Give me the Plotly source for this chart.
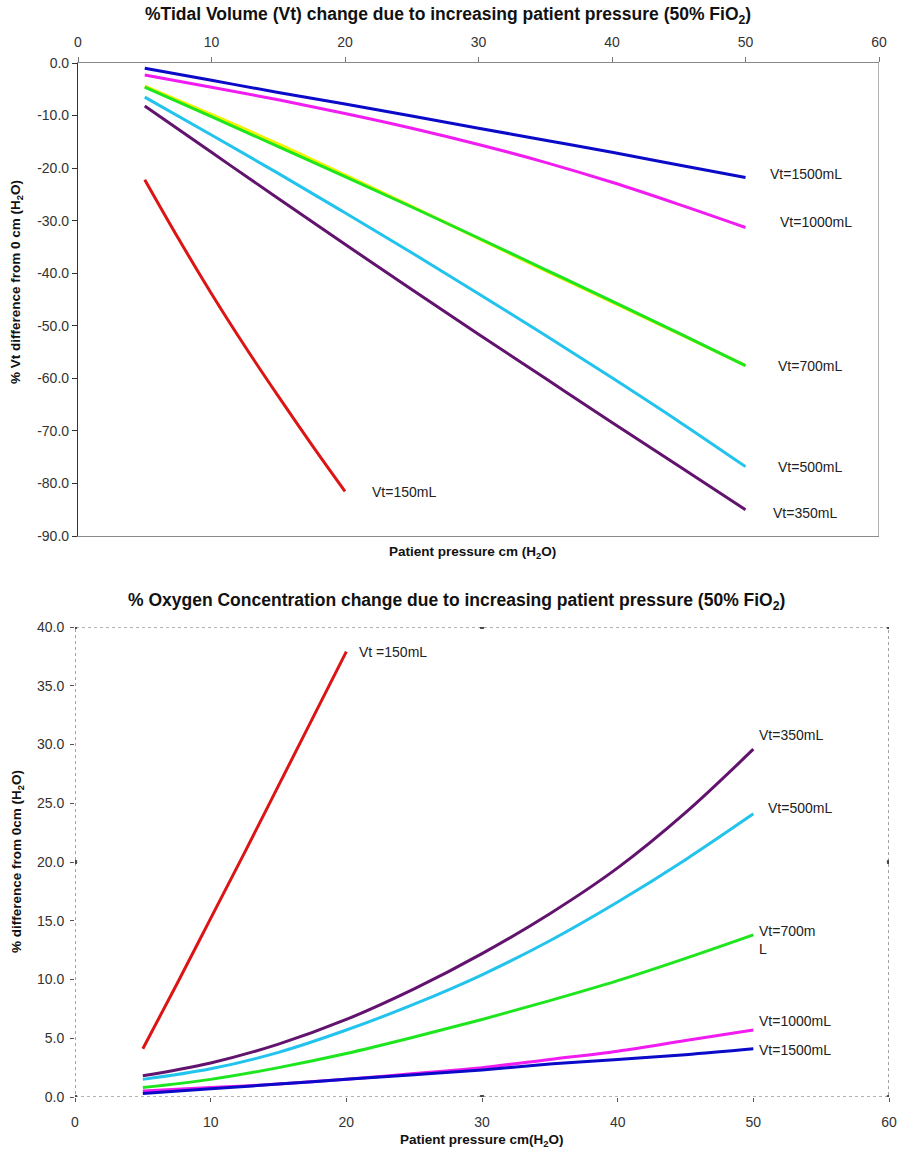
import plotly.graph_objects as go

# the page's default body margin is removed by a post script, so figure px == page px
OFF = 0
W, H = 899 - OFF, 1152 - OFF

# ---------------- data ----------------
pressure = [5, 10, 15, 20, 25, 30, 35, 40, 45, 50]
pressure_150 = [5, 7.5, 10, 12.5, 15, 17.5, 20]

# Top chart: % Vt difference
vt_1500 = [-1.0, -3.3, -5.6, -7.8, -10.1, -12.4, -14.7, -17.0, -19.4, -21.8]
vt_1000 = [-2.3, -4.6, -7.0, -9.6, -12.4, -15.5, -18.9, -22.7, -26.9, -31.3]
vt_700 = [-4.6, -10.2, -15.9, -21.6, -27.4, -33.3, -39.3, -45.3, -51.4, -57.6]
vt_700b = [-4.4, -9.8, -15.4, -21.3, -27.3, -33.4, -39.5, -45.5, -51.5, -57.6]
vt_500 = [-6.5, -13.7, -21.0, -28.5, -36.1, -43.9, -51.8, -59.9, -68.2, -76.8]
vt_350 = [-8.2, -17.0, -25.8, -34.5, -43.1, -51.6, -60.0, -68.4, -76.7, -85.0]
vt_150 = [-22.2, -33.3, -43.9, -53.9, -63.4, -72.6, -81.5]

# Bottom chart: % O2 difference
o2_1500 = [0.3, 0.7, 1.1, 1.5, 1.9, 2.3, 2.8, 3.2, 3.6, 4.1]
o2_1000 = [0.5, 0.8, 1.1, 1.5, 2.0, 2.5, 3.2, 3.9, 4.8, 5.7]
o2_700 = [0.8, 1.5, 2.5, 3.7, 5.1, 6.6, 8.2, 9.9, 11.8, 13.8]
o2_500 = [1.5, 2.4, 3.8, 5.7, 7.9, 10.4, 13.3, 16.6, 20.2, 24.1]
o2_350 = [1.8, 2.9, 4.5, 6.6, 9.2, 12.2, 15.6, 19.5, 24.2, 29.6]
o2_150 = [4.1, 9.6, 15.2, 20.8, 26.5, 32.2, 37.9]

x_ticks = [0, 10, 20, 30, 40, 50, 60]
top_y_ticks = [0, -10, -20, -30, -40, -50, -60, -70, -80, -90]
top_y_text = ["0.0", "-10.0", "-20.0", "-30.0", "-40.0", "-50.0", "-60.0", "-70.0", "-80.0", "-90.0"]
bot_y_ticks = [0, 5, 10, 15, 20, 25, 30, 35, 40]
bot_y_text = ["0.0", "5.0", "10.0", "15.0", "20.0", "25.0", "30.0", "35.0", "40.0"]

C_BLUE = "#0a0ac8"
C_MAG = "#f01cf0"
C_GREEN = "#1ee61e"
C_YEL = "#f2f200"
C_CYAN = "#22c3ec"
C_PURP = "#62136e"
C_RED = "#dc1414"

FONT = "Liberation Sans, Arial, sans-serif"

fig = go.Figure()

def line(x, y, color, xa, ya, width=3):
    fig.add_trace(go.Scatter(x=x, y=y, mode="lines",
                             line=dict(color=color, width=width, shape="spline", smoothing=1.0),
                             xaxis=xa, yaxis=ya, showlegend=False, hoverinfo="skip"))

# top chart
line(pressure, vt_700b, C_YEL, "x", "y")
line(pressure, vt_1500, C_BLUE, "x", "y")
line(pressure, vt_1000, C_MAG, "x", "y")
line(pressure, vt_700, C_GREEN, "x", "y")
line(pressure, vt_500, C_CYAN, "x", "y")
line(pressure, vt_350, C_PURP, "x", "y")
line(pressure_150, vt_150, C_RED, "x", "y")

# bottom chart
line(pressure_150, o2_150, C_RED, "x2", "y2")
line(pressure, o2_350, C_PURP, "x2", "y2")
line(pressure, o2_500, C_CYAN, "x2", "y2")
line(pressure, o2_700, C_GREEN, "x2", "y2")
line(pressure, o2_1000, C_MAG, "x2", "y2")
line(pressure, o2_1500, C_BLUE, "x2", "y2")

def px_x(p):
    return (p - OFF) / W

def px_y(p):
    return 1 - (p - OFF) / H

tickfont = dict(family=FONT, size=14, color="#333333")

fig.update_layout(
    template="none",
    width=W, height=H, autosize=False,
    margin=dict(l=0, r=0, t=0, b=0, pad=0),
    paper_bgcolor="white", plot_bgcolor="white",
    font=dict(family=FONT, color="#222222"),
    xaxis=dict(domain=[px_x(78), px_x(879)], range=[0, 60], side="top", anchor="y",
               tickvals=x_ticks, ticks="outside", ticklen=5, tickcolor="#777777",
               ticklabelstandoff=4, automargin=False,
               showline=True, linecolor="#8a8a8a", linewidth=1, mirror=True,
               showgrid=False, zeroline=False, tickfont=tickfont),
    yaxis=dict(domain=[px_y(536), px_y(63)], range=[-90, 0], anchor="x",
               tickvals=top_y_ticks, ticktext=top_y_text, ticks="outside", ticklen=5, tickcolor="#333333",
               automargin=False,
               showline=True, linecolor="#333333", linewidth=1.2,
               showgrid=False, zeroline=False, tickfont=tickfont),
    xaxis2=dict(domain=[px_x(75), px_x(889)], range=[0, 60], anchor="y2",
                tickvals=x_ticks, ticks="outside", ticklen=4, tickcolor="#555555",
                ticklabelstandoff=8, automargin=False, ticklabeloverflow="allow",
                showline=False, showgrid=False, zeroline=False, tickfont=tickfont),
    yaxis2=dict(domain=[px_y(1097), px_y(627)], range=[0, 40], anchor="x2",
                tickvals=bot_y_ticks, ticktext=bot_y_text, ticks="outside", ticklen=4, tickcolor="#555555",
                ticklabelstandoff=3, automargin=False,
                showline=False, showgrid=False, zeroline=False, tickfont=tickfont),
)

shapes = []
# right border of top chart
shapes.append(dict(type="line", xref="x", yref="y", x0=60, x1=60, y0=-90, y1=0,
                   line=dict(color="#9a9a9a", width=1.5)))
# dotted frame of bottom chart
shapes.append(dict(type="rect", xref="x2", yref="y2", x0=0, x1=60, y0=0, y1=40,
                   line=dict(color="#666666", width=1.2, dash="dot")))
# small handles on frame
for hx, hy in [(0, 40), (30, 40), (60, 40), (60, 20), (60, 0), (30, 0), (0, 0), (0, 20)]:
    shapes.append(dict(type="rect", xref="x2", yref="y2",
                       x0=hx - 0.12, x1=hx + 0.12, y0=hy - 0.13, y1=hy + 0.13,
                       line=dict(color="#444444", width=1), fillcolor="#444444"))
fig.update_layout(shapes=shapes)

ann = []
title_font = dict(family=FONT, size=17.5, color="#111111")
axis_font = dict(family=FONT, size=13.5, color="#111111")
lab_font = dict(family=FONT, size=14, color="#222222")

ann.append(dict(text="<b>%Tidal Volume (Vt) change due to increasing patient pressure (50% FiO<sub>2</sub>)</b>",
                x=px_x(448), y=px_y(16), xref="paper", yref="paper", showarrow=False,
                xanchor="center", yanchor="middle", font=title_font))
ann.append(dict(text="<b>% Oxygen Concentration change due to increasing patient pressure (50% FiO<sub>2</sub>)</b>",
                x=px_x(456), y=px_y(601), xref="paper", yref="paper", showarrow=False,
                xanchor="center", yanchor="middle", font=title_font))
ann.append(dict(text="<b>Patient pressure cm (H<sub>2</sub>O)</b>",
                x=px_x(472), y=px_y(552), xref="paper", yref="paper", showarrow=False,
                xanchor="center", yanchor="middle", font=axis_font))
ann.append(dict(text="<b>Patient pressure cm(H<sub>2</sub>O)</b>",
                x=px_x(482), y=px_y(1140), xref="paper", yref="paper", showarrow=False,
                xanchor="center", yanchor="middle", font=axis_font))
ann.append(dict(text="<b>% Vt difference from 0 cm (H<sub>2</sub>O)</b>",
                x=px_x(17), y=px_y(282), xref="paper", yref="paper", showarrow=False, textangle=-90,
                xanchor="center", yanchor="middle", font=axis_font))
ann.append(dict(text="<b>% difference from 0cm (H<sub>2</sub>O)</b>",
                x=px_x(17), y=px_y(862), xref="paper", yref="paper", showarrow=False, textangle=-90,
                xanchor="center", yanchor="middle", font=axis_font))

top_labels = [("Vt=1500mL", 51.7, -21.1), ("Vt=1000mL", 52.4, -30.2), ("Vt=700mL", 52.3, -57.7),
              ("Vt=500mL", 52.3, -76.9), ("Vt=350mL", 51.9, -85.7), ("Vt=150mL", 21.9, -81.7)]
for t, lx, ly in top_labels:
    ann.append(dict(text=t, x=lx, y=ly, xref="x", yref="y", showarrow=False,
                    xanchor="left", yanchor="middle", font=lab_font))

bot_labels = [("Vt =150mL", 20.8, 37.9), ("Vt=350mL", 50.3, 30.8), ("Vt=500mL", 50.9, 24.6),
              ("Vt=700m<br>L", 50.3, 13.4), ("Vt=1000mL", 50.3, 6.5), ("Vt=1500mL", 50.3, 4.0)]
for t, lx, ly in bot_labels:
    ann.append(dict(text=t, x=lx, y=ly, xref="x2", yref="y2", showarrow=False, align="left",
                    xanchor="left", yanchor="middle", font=lab_font))

fig.update_layout(annotations=ann)

post = ("document.documentElement.style.margin='0';"
        "document.body.style.margin='0';"
        "document.documentElement.style.overflow='hidden';"
        "document.body.style.overflow='hidden';")

fig.write_html("out.html", post_script=post, config={"displayModeBar": False})
